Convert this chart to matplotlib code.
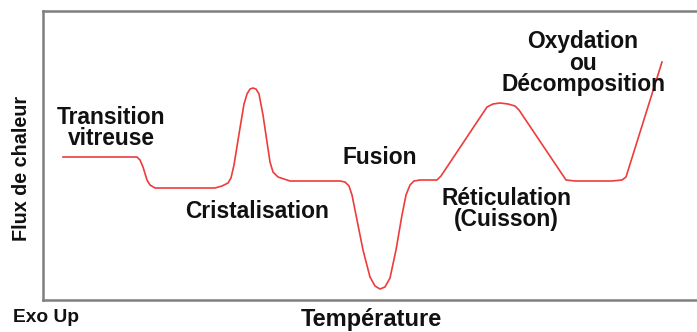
import matplotlib
matplotlib.use("Agg")
import matplotlib.pyplot as plt

plt.rcParams['font.family'] = ['Liberation Sans', 'DejaVu Sans']

# DSC thermogram (schematic): temperature vs heat flux, arbitrary units
temperature = [63, 137, 140, 143, 147, 150, 155, 215, 222, 228, 231, 234, 240, 244,
               247, 250, 253, 256, 259, 263, 267, 270, 273, 278, 290, 340, 345, 349,
               352, 356, 363, 370, 375, 380, 385, 390, 396, 402, 406, 410, 414, 420,
               437, 441, 487, 493, 500, 508, 515, 519, 566, 575, 612, 622, 626, 662]
heat_flux = [143, 143, 140, 133, 120, 115, 112, 112, 114, 117, 122, 135, 172, 196,
             206, 211, 212, 211, 206, 185, 158, 138, 128, 123, 119, 119, 118, 114,
             105, 85, 50, 23, 14, 11, 13, 22, 50, 85, 105, 115, 119, 120,
             120, 124, 193, 196, 197, 196, 194, 190, 120, 119, 119, 120, 123, 238]

annotations = [
    ("Transition\nvitreuse", 111, 172),
    ("Cristalisation", 257, 89),
    ("Fusion", 380, 143),
    ("Réticulation\n(Cuisson)", 506, 91),
    ("Oxydation\nou\nDécomposition", 583, 237),
]

fig = plt.figure(figsize=(6.97, 3.32), dpi=100)
ax = fig.add_axes([43 / 697, 32 / 332, 700 / 697, 289 / 332])
ax.plot(temperature, heat_flux, color='#ee3b3b', lw=1.2)
ax.set_xlim(43, 743)
ax.set_ylim(0, 289)
ax.set_xticks([])
ax.set_yticks([])
for side in ['left', 'top', 'bottom']:
    ax.spines[side].set_color('#7f7f7f')
    ax.spines[side].set_linewidth(1.8)
ax.spines['right'].set_visible(False)

for text, x, y in annotations:
    ax.text(x, y, text, ha='center', va='center', fontsize=16.4,
            fontweight='bold', color='#111111', linespacing=0.9)

fig.text(22 / 697, 1 - 168 / 332, "Flux de chaleur", rotation=90, ha='center',
         va='center', fontsize=14.2, fontweight='bold', color='#111111')
fig.text(13 / 697, 1 - 318 / 332, "Exo Up", ha='left', va='center',
         fontsize=13.8, fontweight='bold', color='#111111')
fig.text(371 / 697, 1 / 332, "Température", ha='center', va='bottom',
         fontsize=17, fontweight='bold', color='#111111')

fig.savefig("out.png", dpi=100)
